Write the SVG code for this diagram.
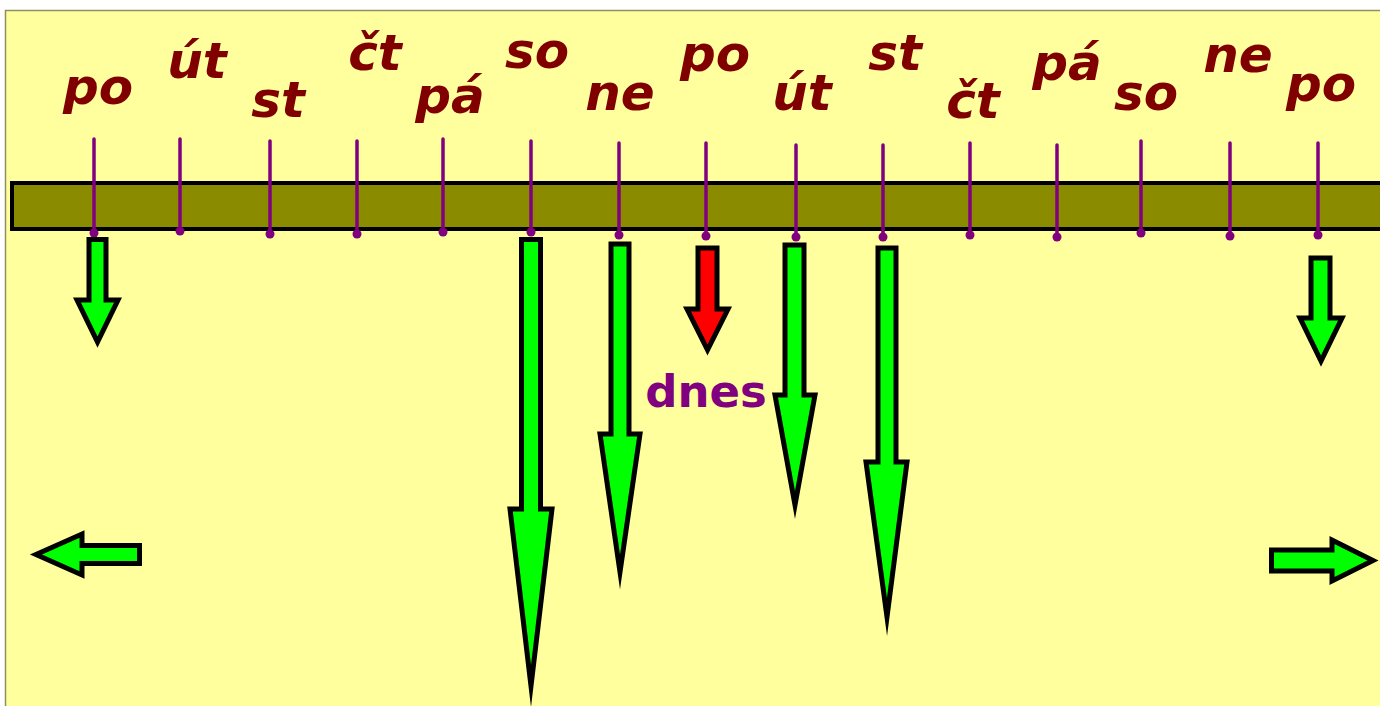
<svg xmlns="http://www.w3.org/2000/svg" width="1380" height="706" viewBox="0 0 1380 706">
<style>
.day{font-family:"DejaVu Sans","Liberation Sans",sans-serif;font-weight:bold;font-style:italic;font-size:50px;fill:#800000;text-anchor:middle}
.tick{stroke:#800080;stroke-width:3.5;stroke-linecap:round}
.dot{fill:#800080}
.arr{fill:#00ff00;stroke:#000;stroke-width:5;stroke-linejoin:miter;stroke-miterlimit:30}
.red{fill:#ff0000}
.dnes{font-family:"DejaVu Sans","Liberation Sans",sans-serif;font-weight:bold;font-size:45px;fill:#800080;text-anchor:middle}
</style>
<rect x="0" y="0" width="1380" height="706" fill="#ffffff"/>
<rect x="5.5" y="10.5" width="1380" height="700" fill="#ffff9e" stroke="#8f8f60" stroke-width="1.5"/>
<g id="bar"><rect x="12" y="183" width="1375" height="46" fill="#8b8b00" stroke="#000" stroke-width="4"/></g>
<g id="days">
<g id="d1"><text class="day" x="98" y="104">po</text><line class="tick" x1="94" y1="139" x2="94" y2="233"/><circle class="dot" cx="94" cy="233" r="4.5"/></g>
<g id="d2"><text class="day" x="197" y="78">út</text><line class="tick" x1="180" y1="139" x2="180" y2="231"/><circle class="dot" cx="180" cy="231" r="4.5"/></g>
<g id="d3"><text class="day" x="278" y="117">st</text><line class="tick" x1="270" y1="141" x2="270" y2="234"/><circle class="dot" cx="270" cy="234" r="4.5"/></g>
<g id="d4"><text class="day" x="375" y="70">čt</text><line class="tick" x1="357" y1="141" x2="357" y2="234"/><circle class="dot" cx="357" cy="234" r="4.5"/></g>
<g id="d5"><text class="day" x="450" y="113">pá</text><line class="tick" x1="443" y1="139" x2="443" y2="232"/><circle class="dot" cx="443" cy="232" r="4.5"/></g>
<g id="d6"><text class="day" x="537" y="68">so</text><line class="tick" x1="531" y1="141" x2="531" y2="232"/><circle class="dot" cx="531" cy="232" r="4.5"/></g>
<g id="d7"><text class="day" x="620" y="110">ne</text><line class="tick" x1="619" y1="143" x2="619" y2="235"/><circle class="dot" cx="619" cy="235" r="4.5"/></g>
<g id="d8"><text class="day" x="715" y="71">po</text><line class="tick" x1="706" y1="143" x2="706" y2="236"/><circle class="dot" cx="706" cy="236" r="4.5"/></g>
<g id="d9"><text class="day" x="802" y="110">út</text><line class="tick" x1="796" y1="145" x2="796" y2="237"/><circle class="dot" cx="796" cy="237" r="4.5"/></g>
<g id="d10"><text class="day" x="895" y="70">st</text><line class="tick" x1="883" y1="145" x2="883" y2="237"/><circle class="dot" cx="883" cy="237" r="4.5"/></g>
<g id="d11"><text class="day" x="973" y="118">čt</text><line class="tick" x1="970" y1="143" x2="970" y2="235"/><circle class="dot" cx="970" cy="235" r="4.5"/></g>
<g id="d12"><text class="day" x="1067" y="80">pá</text><line class="tick" x1="1057" y1="145" x2="1057" y2="237"/><circle class="dot" cx="1057" cy="237" r="4.5"/></g>
<g id="d13"><text class="day" x="1146" y="110">so</text><line class="tick" x1="1141" y1="141" x2="1141" y2="233"/><circle class="dot" cx="1141" cy="233" r="4.5"/></g>
<g id="d14"><text class="day" x="1238" y="72">ne</text><line class="tick" x1="1230" y1="143" x2="1230" y2="236"/><circle class="dot" cx="1230" cy="236" r="4.5"/></g>
<g id="d15"><text class="day" x="1321" y="101">po</text><line class="tick" x1="1318" y1="143" x2="1318" y2="235"/><circle class="dot" cx="1318" cy="235" r="4.5"/></g>
</g>
<g id="today"><text class="dnes" x="706" y="407">dnes</text></g>
<g id="arrows">
<polygon class="arr" points="89,239.5 106,239.5 106,300 118,300 97.5,342 77,300 89,300"/>
<polygon class="arr" points="521.5,239.5 540.5,239.5 540.5,509 552,509 531,686 510,509 521.5,509"/>
<polygon class="arr" points="611,244 629,244 629,434 640,434 620,572 600,434 611,434"/>
<polygon class="arr red" points="698,248 717,248 717,309 728,309 707.5,350 687,309 698,309"/>
<polygon class="arr" points="785,245 804,245 804,395 815,395 795,505 775,395 785,395"/>
<polygon class="arr" points="878,248 896,248 896,462 907,462 887,617 866,462 878,462"/>
<polygon class="arr" points="1311,258 1330,258 1330,318 1342,318 1321,361 1300,318 1311,318"/>
<polygon class="arr" points="139.5,545.5 139.5,563.5 82,563.5 82,575 36,554.5 82,534 82,545.5"/>
<polygon class="arr" points="1271.5,550 1271.5,571 1332,571 1332,581 1373,560.5 1332,540 1332,550"/>
</g>
</svg>
